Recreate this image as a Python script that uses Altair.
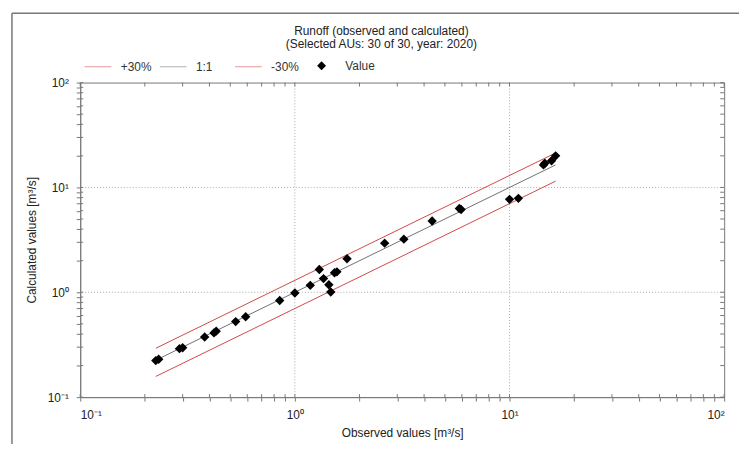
import altair as alt
import pandas as pd

# ---- data ----
observed = [0.225, 0.232, 0.29, 0.30, 0.38, 0.42, 0.43, 0.53, 0.59, 0.85,
            1.00, 1.18, 1.30, 1.36, 1.44, 1.47, 1.53, 1.57, 1.75, 2.62,
            3.22, 4.36, 5.84, 5.95, 10.0, 11.0, 14.4, 14.6, 15.7, 16.4]
calculated = [0.223, 0.230, 0.29, 0.296, 0.375, 0.41, 0.426, 0.525, 0.585, 0.835,
              0.985, 1.165, 1.65, 1.35, 1.18, 1.007, 1.535, 1.567, 2.09, 2.94,
              3.21, 4.78, 6.29, 6.16, 7.70, 7.87, 16.4, 16.98, 17.98, 20.0]
line_names = ["+30%", "1:1", "-30%"]
line_factors = [1.3, 1.0, 0.7]
point_name = "Value"
decade_ticks = [0.1, 1, 10, 100]
decade_labels = ["10\u207b\u00b9", "10\u2070", "10\u00b9", "10\u00b2"]
grid_values = [1, 10]
all_ticks = [m * d for d in [0.1, 1, 10] for m in range(1, 10)] + [100]

RED = "#d04848"
GRAY = "#707070"
FONT = "Liberation Sans"
W, H = 651, 318

points = pd.DataFrame({"obs": observed, "calc": calculated, "kind": point_name})
xmin, xmax = min(observed), max(observed)
lines = pd.DataFrame(
    [{"series": s, "x": x, "y": f * x}
     for s, f in zip(line_names, line_factors) for x in (xmin, xmax)]
)
ticks = pd.DataFrame({"t": all_ticks})
grid = pd.DataFrame({"g": grid_values})
one = pd.DataFrame({"a": [0]})

label_expr = " : ".join(
    f"abs(datum.value - {v}) < {v * 1e-6} ? '{l}'" for v, l in zip(decade_ticks, decade_labels)
) + " : ''"

xs = alt.Scale(type="log", domain=[0.1, 100], nice=False)
ys = alt.Scale(type="log", domain=[0.1, 100], nice=False)

xaxis = alt.Axis(values=all_ticks, labelExpr=label_expr, labelOverlap=False, grid=False,
                 title="Observed values [m\u00b3/s]", tickSize=4, labelPadding=9,
                 titlePadding=7)
yaxis = alt.Axis(values=all_ticks, labelExpr=label_expr, labelOverlap=False, grid=False,
                 title="Calculated values [m\u00b3/s]", tickSize=4, labelPadding=8,
                 titlePadding=9)


def X(field):
    return alt.X(field, type="quantitative", scale=xs, axis=xaxis)


def Y(field):
    return alt.Y(field, type="quantitative", scale=ys, axis=yaxis)


# outer frame (top and left edges)
frame_top = alt.Chart(one).mark_rule(color="#777777", strokeWidth=1.5).encode(
    x=alt.value(-69), x2=alt.value(680), y=alt.value(-70))
frame_left = alt.Chart(one).mark_rule(color="#777777", strokeWidth=1.5).encode(
    x=alt.value(-69), y=alt.value(-70), y2=alt.value(380))

gx = alt.Chart(grid).mark_rule(color="#aaaaaa", strokeDash=[1, 2], strokeWidth=1).encode(x=X("g"))
gy = alt.Chart(grid).mark_rule(color="#aaaaaa", strokeDash=[1, 2], strokeWidth=1).encode(y=Y("g"))

tick_color = "#777777"
t_bottom = alt.Chart(ticks).mark_rule(color=tick_color).encode(
    x=X("t"), y=alt.value(H), y2=alt.value(H - 3))
t_top = alt.Chart(ticks).mark_rule(color=tick_color).encode(
    x=X("t"), y=alt.value(0), y2=alt.value(4))
t_left = alt.Chart(ticks).mark_rule(color=tick_color).encode(
    y=Y("t"), x=alt.value(0), x2=alt.value(3))
t_right = alt.Chart(ticks).mark_rule(color=tick_color).encode(
    y=Y("t"), x=alt.value(W), x2=alt.value(W - 4))

line_legend = alt.Legend(
    title=None, orient="none", legendX=4, legendY=-30, direction="horizontal",
    columns=3, gridAlign="all", columnPadding=5, symbolSize=729, symbolType="stroke",
    symbolStrokeWidth=1, symbolOpacity=0.55, labelFont=FONT, labelFontSize=12,
    labelColor="#333333", labelOffset=9, padding=0,
)
point_legend = alt.Legend(
    title=None, orient="none", legendX=238, legendY=-23, direction="horizontal",
    symbolSize=81, symbolType="diamond", symbolFillColor="black", symbolStrokeColor="black",
    labelFont=FONT, labelFontSize=12, labelColor="#333333", labelOffset=18, padding=0,
)

line_layer = alt.Chart(lines).mark_line(strokeWidth=1).encode(
    x=X("x"), y=Y("y"),
    color=alt.Color("series:N",
                    scale=alt.Scale(domain=line_names, range=[RED, GRAY, RED]),
                    legend=line_legend),
)

pts = alt.Chart(points).mark_point(filled=True, size=90, color="black", opacity=1).encode(
    x=X("obs"), y=Y("calc"),
    shape=alt.Shape("kind:N", scale=alt.Scale(domain=[point_name], range=["diamond"]),
                    legend=point_legend),
)

chart = alt.layer(frame_top, frame_left, gx, gy, t_bottom, t_top, t_left, t_right,
                  line_layer, pts).properties(
    width=W, height=H,
    title=alt.TitleParams(
        text=["Runoff (observed and calculated)", "(Selected AUs: 30 of 30, year: 2020)"],
        anchor="middle", frame="group", dx=-21, dy=71, offset=32, fontSize=12,
        fontWeight="normal", font=FONT, color="#222222", lineHeight=13),
    autosize=alt.AutoSizeParams(type="none"),
    padding={"left": 73, "top": 73, "right": 15, "bottom": 45},
).resolve_legend(color="independent", shape="independent").configure_view(
    stroke="#777777", strokeWidth=1).configure_axis(
    domainColor="#777777", tickColor="#777777", labelFont=FONT, titleFont=FONT,
    labelFontSize=12, titleFontSize=12, titleFontWeight="normal",
    labelColor="#222222", titleColor="#222222",
)

chart.save("out.html", embed_options={"renderer": "svg", "actions": False})
